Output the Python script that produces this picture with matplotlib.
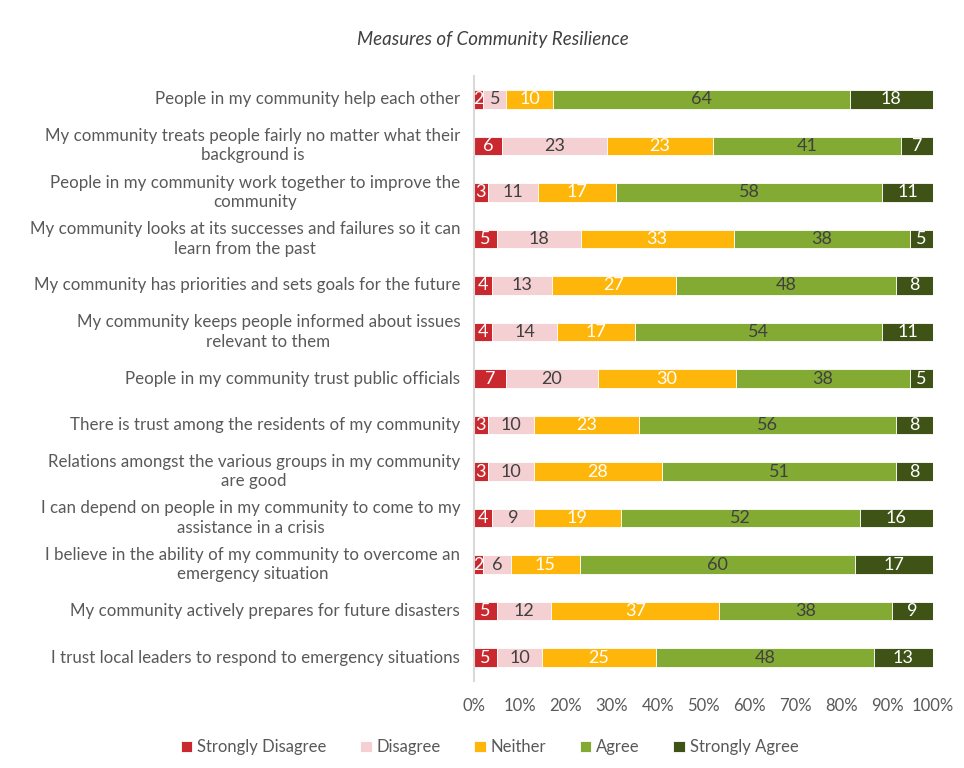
import matplotlib.pyplot as plt
import numpy as np

plt.rcParams['font.family'] = ['Lato', 'DejaVu Sans']

statements = [
    'People in my community help each other',
    'My community treats people fairly no matter what their\nbackground is',
    'People in my community work together to improve the\ncommunity',
    'My community looks at its successes and failures so it can\nlearn from the past',
    'My community has priorities and sets goals for the future',
    'My community keeps people informed about issues\nrelevant to them',
    'People in my community trust public officials',
    'There is trust among the residents of my community',
    'Relations amongst the various groups in my community\nare good',
    'I can depend on people in my community to come to my\nassistance in a crisis',
    'I believe in the ability of my community to overcome an\nemergency situation',
    'My community actively prepares for future disasters',
    'I trust local leaders to respond to emergency situations',
]

strongly_disagree = [2, 6, 3, 5, 4, 4, 7, 3, 3, 4, 2, 5, 5]
disagree = [5, 23, 11, 18, 13, 14, 20, 10, 10, 9, 6, 12, 10]
neither = [10, 23, 17, 33, 27, 17, 30, 23, 28, 19, 15, 37, 25]
agree = [64, 41, 58, 38, 48, 54, 38, 56, 51, 52, 60, 38, 48]
strongly_agree = [18, 7, 11, 5, 8, 11, 5, 8, 8, 16, 17, 9, 13]

series = ['Strongly Disagree', 'Disagree', 'Neither', 'Agree', 'Strongly Agree']
colors = ['#C8282E', '#F4D0D2', '#FFB60B', '#83AB34', '#3F5317']
text_colors = ['white', '#404040', 'white', '#404040', 'white']

data = np.array([strongly_disagree, disagree, neither, agree, strongly_agree], dtype=float)
pct = data / data.sum(axis=0)  # 100% stacked

fig = plt.figure(figsize=(9.64, 7.68), dpi=100)
ax = fig.add_axes([0.4917, 0.1133, 0.4761, 0.7877])

y = np.arange(len(statements))
left = np.zeros(len(statements))
for i in range(len(series)):
    ax.barh(y, pct[i], left=left, height=0.4, color=colors[i],
            edgecolor='white', linewidth=0.6, label=series[i])
    for j in range(len(statements)):
        ax.text(left[j] + pct[i][j] / 2, y[j], f'{int(data[i][j])}',
                ha='center', va='center', fontsize=13, color=text_colors[i])
    left += pct[i]

ax.set_ylim(len(statements) - 0.5, -0.5)
ax.set_xlim(0, 1)
ax.set_yticks(y)
ax.set_yticklabels([])
# category labels drawn by hand so wrapped lines can be centred
for j, s in enumerate(statements):
    ax.text(-0.03, y[j], s, transform=ax.get_yaxis_transform(), ha='right', va='center',
            multialignment='center', fontsize=12.2, color='#595959', linespacing=1.25)
ax.set_xticks(np.linspace(0, 1, 11))
ax.set_xticklabels([f'{int(v)}%' for v in np.linspace(0, 100, 11)], fontsize=12, color='#595959')
ax.tick_params(length=0, axis='y')
ax.tick_params(length=0, axis='x', pad=12)
for s in ['top', 'right', 'bottom']:
    ax.spines[s].set_visible(False)
ax.spines['left'].set_color('#D9D9D9')
ax.spines['left'].set_linewidth(1.5)

fig.text(0.511, 0.948, 'Measures of Community Resilience', ha='center', va='center',
         fontsize=13.5, style='italic', color='#404040')

handles, labels = ax.get_legend_handles_labels()
fig.legend(handles, labels, loc='center', bbox_to_anchor=(0.508, 0.027), ncol=5,
           frameon=False, fontsize=12, handlelength=0.7, handleheight=0.7,
           handletextpad=0.3, columnspacing=2.0, labelcolor='#595959')

plt.savefig('out.png', dpi=100)
